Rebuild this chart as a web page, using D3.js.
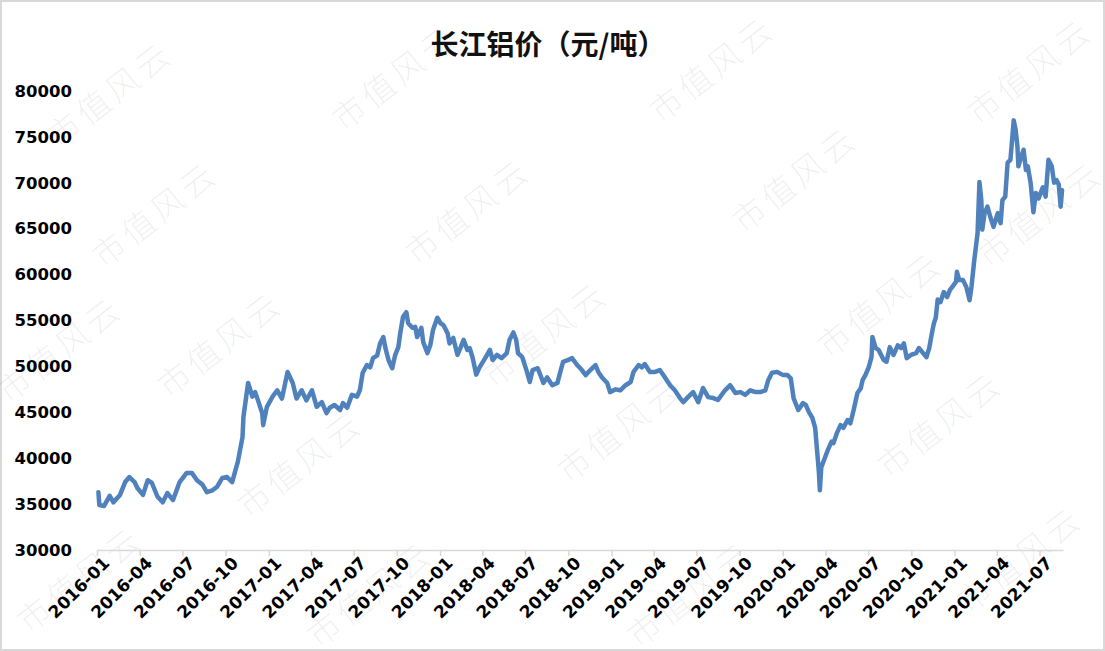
<!DOCTYPE html>
<html>
<head>
<meta charset="utf-8">
<script src="https://cdn.jsdelivr.net/npm/d3@7"></script>
<style>
  html, body { margin: 0; padding: 0; background: #fff; }
  svg { display: block; }
</style>
</head>
<body>
<div id="chart"></div>
<script>
// 长江铝价 data
const title = '长江铝价（元/吨）';

const dates = [
  '2016-01-04','2016-01-06','2016-01-16','2016-01-28','2016-02-05','2016-02-19','2016-03-01','2016-03-10','2016-03-21','2016-03-27',
  '2016-04-08','2016-04-18','2016-04-27','2016-05-09','2016-05-20','2016-05-30','2016-06-11','2016-06-25','2016-07-10','2016-07-21',
  '2016-08-01','2016-08-13','2016-08-22','2016-09-03','2016-09-13','2016-09-24','2016-10-04','2016-10-15','2016-10-21','2016-10-27',
  '2016-11-06','2016-11-08','2016-11-12','2016-11-18','2016-11-27','2016-12-03','2016-12-09','2016-12-18','2016-12-20','2016-12-28',
  '2017-01-09','2017-01-19','2017-01-29','2017-02-10','2017-02-21','2017-03-01','2017-03-12','2017-03-22','2017-04-03','2017-04-13',
  '2017-04-24','2017-05-04','2017-05-11','2017-05-21','2017-06-02','2017-06-08','2017-06-17','2017-06-27','2017-07-08','2017-07-14',
  '2017-07-20','2017-07-29','2017-08-05','2017-08-11','2017-08-20','2017-08-26','2017-09-02','2017-09-06','2017-09-13','2017-09-21',
  '2017-09-27','2017-10-04','2017-10-08','2017-10-14','2017-10-21','2017-10-25','2017-11-03','2017-11-09','2017-11-13','2017-11-22',
  '2017-11-26','2017-12-05','2017-12-11','2017-12-17','2017-12-26',
  '2018-01-02','2018-01-08','2018-01-17','2018-01-21','2018-01-29','2018-02-07','2018-02-14','2018-02-20','2018-02-28','2018-03-05',
  '2018-03-11','2018-03-19','2018-03-26','2018-04-07','2018-04-17','2018-04-23','2018-05-02','2018-05-12','2018-05-23','2018-05-29',
  '2018-06-06','2018-06-12','2018-06-16','2018-06-25','2018-07-05','2018-07-11','2018-07-17','2018-07-28','2018-08-09','2018-08-17',
  '2018-08-28','2018-09-08','2018-09-14','2018-09-20','2018-10-01','2018-10-09','2018-10-20','2018-10-30','2018-11-07','2018-11-17',
  '2018-11-28','2018-12-04','2018-12-12','2018-12-23','2018-12-29',
  '2019-01-10','2019-01-20','2019-01-31','2019-02-11','2019-02-17','2019-02-28','2019-03-07','2019-03-13','2019-03-24','2019-04-04',
  '2019-04-14','2019-04-25','2019-05-06','2019-05-16','2019-05-27','2019-06-03','2019-06-13','2019-06-24','2019-07-05','2019-07-15',
  '2019-07-26','2019-08-06','2019-08-16','2019-08-31','2019-09-11','2019-09-22','2019-10-03','2019-10-13','2019-10-24','2019-11-04',
  '2019-11-14','2019-11-25','2019-12-01','2019-12-09','2019-12-20',
  '2020-01-02','2020-01-11','2020-01-18','2020-01-24','2020-02-03','2020-02-13','2020-02-19','2020-02-26','2020-03-04','2020-03-10',
  '2020-03-14','2020-03-18','2020-03-20','2020-03-23','2020-03-29','2020-04-06','2020-04-14','2020-04-18','2020-04-25','2020-05-03',
  '2020-05-09','2020-05-18','2020-05-24','2020-05-31','2020-06-08','2020-06-15','2020-06-19','2020-06-25','2020-07-02','2020-07-08',
  '2020-07-10','2020-07-17','2020-07-23','2020-08-03','2020-08-09','2020-08-16','2020-08-24','2020-09-02','2020-09-09','2020-09-15',
  '2020-09-21','2020-09-30','2020-10-11','2020-10-17','2020-10-26','2020-11-02','2020-11-08','2020-11-14','2020-11-18','2020-11-22',
  '2020-11-26','2020-12-02','2020-12-09','2020-12-16','2020-12-22',
  '2021-01-04','2021-01-06','2021-01-11','2021-01-19','2021-01-26','2021-02-02','2021-02-06','2021-02-12','2021-02-19','2021-02-23',
  '2021-02-27','2021-03-01','2021-03-06','2021-03-12','2021-03-18','2021-03-25','2021-04-03','2021-04-09','2021-04-13','2021-04-19',
  '2021-04-24','2021-04-30','2021-05-07','2021-05-11','2021-05-15','2021-05-17','2021-05-21','2021-05-28','2021-06-02','2021-06-06',
  '2021-06-12','2021-06-18','2021-06-23','2021-06-29','2021-07-08','2021-07-14','2021-07-20','2021-07-27','2021-08-01','2021-08-06',
  '2021-08-11','2021-08-15','2021-08-18'
];

const prices = [
  36300,34900,34800,35900,35200,36000,37400,37950,37400,36750,
  36000,37600,37300,35800,35200,36200,35450,37400,38400,38400,
  37600,37100,36300,36500,36900,37850,37950,37400,38500,39600,
  42300,44500,46000,48200,46700,47200,46300,44900,43600,45600,
  46700,47400,46500,49400,48200,46500,47400,46300,47400,45600,
  46100,44900,45500,45800,45250,46000,45500,46900,46700,47400,
  49300,50150,49900,50900,51200,52500,53200,52100,50700,49800,
  51200,52100,53600,55400,55900,54700,54200,54300,53200,54200,
  52650,51450,52300,54000,55300,
  54700,54500,53600,52500,53100,51250,52100,52900,51800,52000,
  51000,49100,49900,50900,51800,50700,51250,50900,51450,52900,
  53700,52900,51450,51000,49400,48300,49600,49800,48200,48800,
  47950,48200,49400,50500,50700,50900,50150,49600,49050,49600,
  50150,49400,48800,48200,47200,
  47500,47400,47950,48300,49400,50150,49900,50250,49400,49400,
  49600,48800,47950,47400,46550,46100,46650,47200,46100,47650,
  46650,46550,46350,47400,47950,47100,47200,46900,47400,47200,
  47200,47400,48500,49300,49400,
  49050,49050,48700,46550,45250,46000,45800,45000,44400,43300,
  40900,38400,36500,39000,39800,40900,41800,41650,42700,43600,
  43300,44150,43800,45250,47100,47600,48500,49050,49900,51000,
  53200,52000,51800,50700,50500,52100,51250,52300,52000,52500,
  50900,51250,51450,52000,51450,51000,52000,53700,54700,55300,
  57300,57000,58100,57550,58300,
  59200,60300,59400,59400,58650,57200,58650,61600,64500,70100,
  68100,64900,66700,67400,66300,65200,66700,65600,68100,68500,
  72200,72500,76800,75800,73900,71800,72500,73600,71400,71800,
  70000,66800,68900,68300,69500,68500,72500,71800,70000,70300,
  69800,67400,69200
];

const yTicks = [30000, 35000, 40000, 45000, 50000, 55000, 60000, 65000, 70000, 75000, 80000];
const axisStart = '2016-01-01';
const axisEnd = '2021-08-20';

const watermark = '市值风云';
const markSpots = [
  [110, 95], [395, 78], [712, 70], [1030, 72],
  [155, 215], [468, 212], [795, 180], [1040, 215],
  [60, 350], [220, 345], [545, 335], [880, 305],
  [300, 465], [620, 430], [940, 425],
  [80, 580], [370, 595], [690, 595], [1020, 560]
];

const width = 1105;
const height = 651;
const margin = { top: 91, right: 42, bottom: 101, left: 97 };

const parse = d3.utcParse('%Y-%m-%d');
const data = dates.map((d, i) => ({ date: parse(d), value: prices[i] }));

const svg = d3.select('#chart')
  .append('svg')
  .attr('width', width)
  .attr('height', height);

// outer frame
svg.append('rect')
  .attr('x', 1).attr('y', 1)
  .attr('width', width - 2).attr('height', height - 2)
  .attr('fill', '#fff')
  .attr('stroke', '#d9d9d9')
  .attr('stroke-width', 2);

const x = d3.scaleUtc()
  .domain([parse(axisStart), parse(axisEnd)])
  .range([margin.left, width - margin.right]);

const y = d3.scaleLinear()
  .domain([30000, 80000])
  .range([height - margin.bottom, margin.top]);

// watermark
svg.append('g')
  .selectAll('text')
  .data(markSpots)
  .enter().append('text')
  .attr('transform', d => 'translate(' + d[0] + ',' + d[1] + ') rotate(-38)')
  .attr('text-anchor', 'middle')
  .attr('dy', '0.35em')
  .style('font-family', '"Noto Sans CJK SC", sans-serif')
  .style('font-weight', 300)
  .style('font-size', '33px')
  .style('letter-spacing', '4px')
  .style('fill', '#000')
  .style('fill-opacity', 0.065)
  .text(watermark);

// title
svg.append('text')
  .attr('x', 548)
  .attr('y', 55)
  .attr('text-anchor', 'middle')
  .style('font-family', '"Noto Sans CJK SC", sans-serif')
  .style('font-weight', 700)
  .style('font-size', '28px')
  .style('fill', '#111')
  .text(title);

// y axis labels only
const yAxis = svg.append('g')
  .attr('transform', 'translate(' + (margin.left - 25) + ',0)')
  .call(d3.axisLeft(y).tickValues(yTicks).tickSize(0).tickPadding(0).tickFormat(d3.format('d')));
yAxis.select('.domain').remove();
yAxis.selectAll('text')
  .style('font-family', '"DejaVu Sans", sans-serif')
  .style('font-weight', 700)
  .style('font-size', '16.5px')
  .style('fill', '#000');

// x axis
const xAxis = svg.append('g')
  .attr('transform', 'translate(0,' + (height - margin.bottom) + ')')
  .call(d3.axisBottom(x)
    .ticks(d3.utcMonth.every(3))
    .tickSize(6)
    .tickSizeOuter(0)
    .tickFormat(d3.utcFormat('%Y-%m')));
xAxis.select('.domain').attr('stroke', '#d9d9d9').attr('stroke-width', 1.5);
xAxis.selectAll('.tick line').attr('stroke', '#d9d9d9').attr('stroke-width', 1.5);
xAxis.selectAll('text')
  .attr('text-anchor', 'end')
  .attr('transform', 'translate(6,7) rotate(-45)')
  .attr('dy', '0.6em')
  .attr('y', 0)
  .attr('x', 0)
  .style('font-family', '"DejaVu Sans", sans-serif')
  .style('font-weight', 700)
  .style('font-size', '17px')
  .style('fill', '#000');

// price line
const line = d3.line()
  .x(d => x(d.date))
  .y(d => y(d.value));

svg.append('path')
  .datum(data)
  .attr('d', line)
  .attr('fill', 'none')
  .attr('stroke', '#4f81bd')
  .attr('stroke-width', 4.5)
  .attr('stroke-linejoin', 'round')
  .attr('stroke-linecap', 'round');
</script>
</body>
</html>
